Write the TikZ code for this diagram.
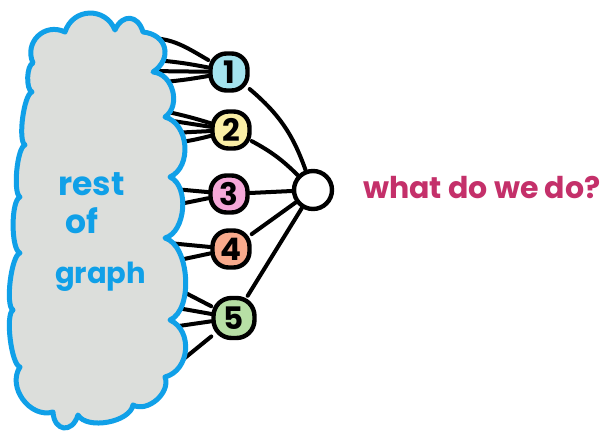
\documentclass[tikz,border=0pt]{standalone}
\usepackage{fontspec}
\setmainfont{Poppins}
\definecolor{cloudblue}{RGB}{16,160,232}
\definecolor{cloudfill}{RGB}{220,222,219}
\definecolor{qcol}{RGB}{196,48,106}
\definecolor{cA}{RGB}{164,227,238}
\definecolor{cB}{RGB}{250,238,165}
\definecolor{cC}{RGB}{245,168,216}
\definecolor{cD}{RGB}{248,170,140}
\definecolor{cE}{RGB}{183,223,165}
\begin{document}
\begin{tikzpicture}[x=1pt,y=1pt,
  num/.style={draw=black, line width=4.4pt, rounded corners=16pt, minimum width=37pt, minimum height=37pt, inner sep=0pt, font=\fontsize{31}{31}\selectfont\bfseries},
  edge/.style={line width=4pt, line cap=round},
  cloudtext/.style={text=cloudblue, font=\fontsize{33}{33}\selectfont\bfseries, anchor=base west, inner sep=0pt},
]
\useasboundingbox (0,0) rectangle (613,-433);
\fill[white] (0,0) rectangle (613,-433);
% nodes
\node[num, fill=cA] (n1) at (229,-72) {1};
\node[num, fill=cB] (n2) at (231,-130) {2};
\node[num, fill=cC] (n3) at (229,-194) {3};
\node[num, fill=cD] (n4) at (231,-249) {4};
\node[num, fill=cE, minimum width=41pt, minimum height=40pt, rounded corners=18pt] (n5) at (234,-318) {5};
\node[num, fill=white, circle, minimum size=38pt] (big) at (313,-190) {};
% start points inside cloud
\coordinate (s1a) at (148,-38);
\coordinate (s1b) at (155,-60);
\coordinate (s1c) at (148,-71);
\coordinate (s1d) at (150,-83);
\coordinate (s2a) at (158,-110);
\coordinate (s2b) at (160,-119);
\coordinate (s2c) at (172,-133);
\coordinate (s2d) at (175,-143);
\coordinate (s3a) at (163,-188);
\coordinate (s3b) at (175,-205);
\coordinate (s4a) at (158,-242);
\coordinate (s4b) at (170,-262);
\coordinate (s5a) at (176,-288);
\coordinate (s5b) at (172,-307);
\coordinate (s5c) at (165,-328);
\coordinate (s5d) at (175,-366);
% edges
\draw[edge] (s1a) to[out=0,in=150] (n1);
\draw[edge] (s1b) to[bend left=3] (n1);
\draw[edge] (s1c) -- (n1);
\draw[edge] (s1d) to[bend right=3] (n1);
\draw[edge] (s2a) to[bend left=3] (n2);
\draw[edge] (s2b) -- (n2);
\draw[edge] (s2c) -- (n2);
\draw[edge] (s2d) to[bend right=3] (n2);
\draw[edge] (s3a) -- (n3);
\draw[edge] (s3b) -- (n3);
\draw[edge] (s4a) -- (n4);
\draw[edge] (s4b) -- (n4);
\draw[edge] (s5a) -- (n5);
\draw[edge] (s5b) -- (n5);
\draw[edge] (s5c) -- (n5);
\draw[edge] (s5d) -- (n5);
\draw[edge] (n1) to[bend left=15] (big);
\draw[edge] (n2) to[bend left=8] (big);
\draw[edge] (n3) -- (big);
\draw[edge] (n4) -- (big);
\draw[edge] (n5) -- (big);
% cloud
\draw[cloudblue, fill=cloudfill, line width=5pt, line join=round]
 (33,-63) to[bend left=70, looseness=1.3] (65,-32)
 to[bend left=70, looseness=1.3] (115,-30)
 to[bend left=70, looseness=1.65] (143,-32)
 to[bend left=70, looseness=1.5] (153,-72)
 to[bend left=70, looseness=1.1] (165,-117)
 to[bend left=70, looseness=1.05] (170,-177)
 to[bend left=70, looseness=0.9] (165,-238)
 to[bend left=70, looseness=0.8] (170,-320)
 to[bend left=70, looseness=1.15] (165,-377)
 to[bend left=70, looseness=1.0] (133,-405)
 to[bend left=70, looseness=0.8] (78,-415)
 to[bend left=80, looseness=2] (53,-412)
 to[bend left=70, looseness=1.1] (20,-367)
 to[bend left=70, looseness=0.4] (13,-310)
 to[bend left=70, looseness=0.4] (20,-253)
 to[bend left=70, looseness=0.45] (20,-197)
 to[bend left=70, looseness=0.4] (25,-145)
 to[bend left=70, looseness=0.4] (32,-92)
 to[bend left=70, looseness=0.6] (33,-63) -- cycle;
% texts
\node[cloudtext] (t1) at (58,-195) {rest};
\node[cloudtext] (t2) at (65,-233) {of};
\node[cloudtext, font=\fontsize{29}{29}\selectfont\bfseries] (t3) at (55,-283) {graph};
\node[text=qcol, font=\fontsize{30}{30}\selectfont\bfseries, anchor=base west, inner sep=0pt] (q) at (363,-198) {what do we do?};
\end{tikzpicture}
\end{document}
